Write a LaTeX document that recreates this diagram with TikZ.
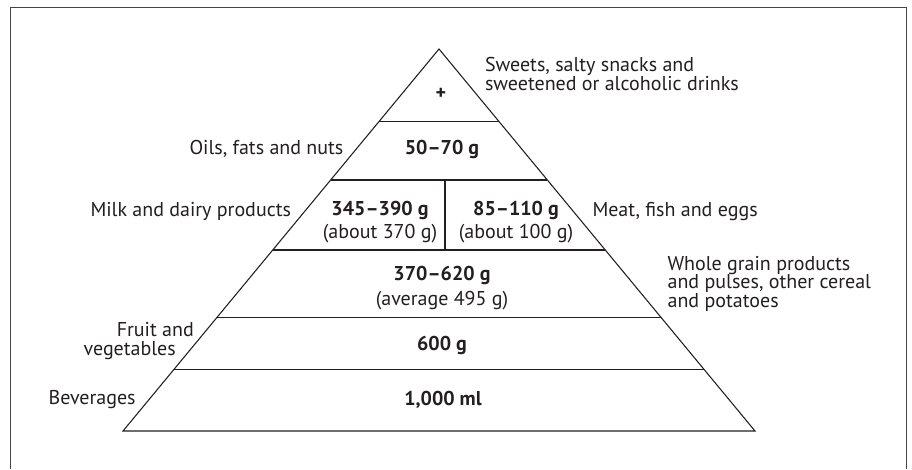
\documentclass[tikz,border=0pt]{standalone}
\usepackage{fontspec}
\setmainfont{PT Sans}
\usetikzlibrary{calc}
\definecolor{ink}{HTML}{231F20}
\definecolor{framec}{HTML}{444444}
\tikzset{
  pyr/.style={draw=ink, line width=0.8pt, line join=miter},
  lab/.style={text=ink, font=\fontsize{15}{18}\selectfont, inner sep=0pt, outer sep=0pt},
  val/.style={lab, font=\fontsize{15}{18}\selectfont\bfseries},
  sub/.style={lab},
}
\begin{document}
\begin{tikzpicture}[x=0.75pt,y=-0.75pt]
\useasboundingbox (0,0) rectangle (912,469);
\fill[white] (0,0) rectangle (912,469);
% frame
\draw[framec, line width=1pt] (10.5,469) -- (10.5,7.5) -- (906.5,7.5) -- (906.5,469);
% pyramid
\coordinate (A) at (439,49);
\coordinate (BL) at (123,431);
\coordinate (BR) at (755,431);
\foreach \n/\t in {1/0.1903,2/0.3429,3/0.5262,4/0.7034,5/0.8395}{
  \coordinate (L\n) at ($(A)!\t!(BL)$);
  \coordinate (R\n) at ($(A)!\t!(BR)$);
}
\coordinate (D1) at (445,180);
\coordinate (D2) at (445,250);
\draw[pyr] (A) -- (BL) -- (BR) -- cycle;
\foreach \n in {1,...,5}{ \draw[pyr] (L\n) -- (R\n); }
\draw[pyr] (D1) -- (D2);
% values
\node[val, anchor=mid] (plus) at (441,96) {+};
\node[val, anchor=mid] (oil) at (442,151) {50–70 g};
\node[val, anchor=mid] (milkv) at (380,211.7) {345–390 g};
\node[sub, anchor=mid] (milks) at (380,235) {(about 370 g)};
\node[val, anchor=mid] (meatv) at (516,211.7) {85–110 g};
\node[sub, anchor=mid] (meats) at (516,235) {(about 100 g)};
\node[val, anchor=mid] (grainv) at (442,276.7) {370–620 g};
\node[sub, anchor=mid] (grains) at (442,301.7) {(average 495 g)};
\node[val, anchor=mid] (fruitv) at (442,346.7) {600 g};
\node[val, anchor=mid] (bevv) at (443,401.7) {1,000 ml};
% side labels
\node[lab, anchor=mid west] (sweets1) at (485,68.3) {Sweets, salty snacks and};
\node[lab, anchor=mid west] (sweets2) at (485,86.7) {sweetened or alcoholic drinks};
\node[lab, anchor=mid east] (oils) at (343.4,151) {Oils, fats and nuts};
\node[lab, anchor=mid east] (milk) at (291,213) {Milk and dairy products};
\node[lab, anchor=mid west] (meat) at (592.5,213) {Meat, fish and eggs};
\node[lab, anchor=mid west] (whole1) at (667.6,266.7) {Whole grain products};
\node[lab, anchor=mid west] (whole2) at (667.6,285) {and pulses, other cereal};
\node[lab, anchor=mid west] (whole3) at (667.6,304.3) {and potatoes};
\node[lab, anchor=mid east] (fruit1) at (193.8,333) {Fruit and};
\node[lab, anchor=mid east] (fruit2) at (175.8,351.7) {vegetables};
\node[lab, anchor=mid east] (bev) at (135.6,401) {Beverages};
\end{tikzpicture}
\end{document}
